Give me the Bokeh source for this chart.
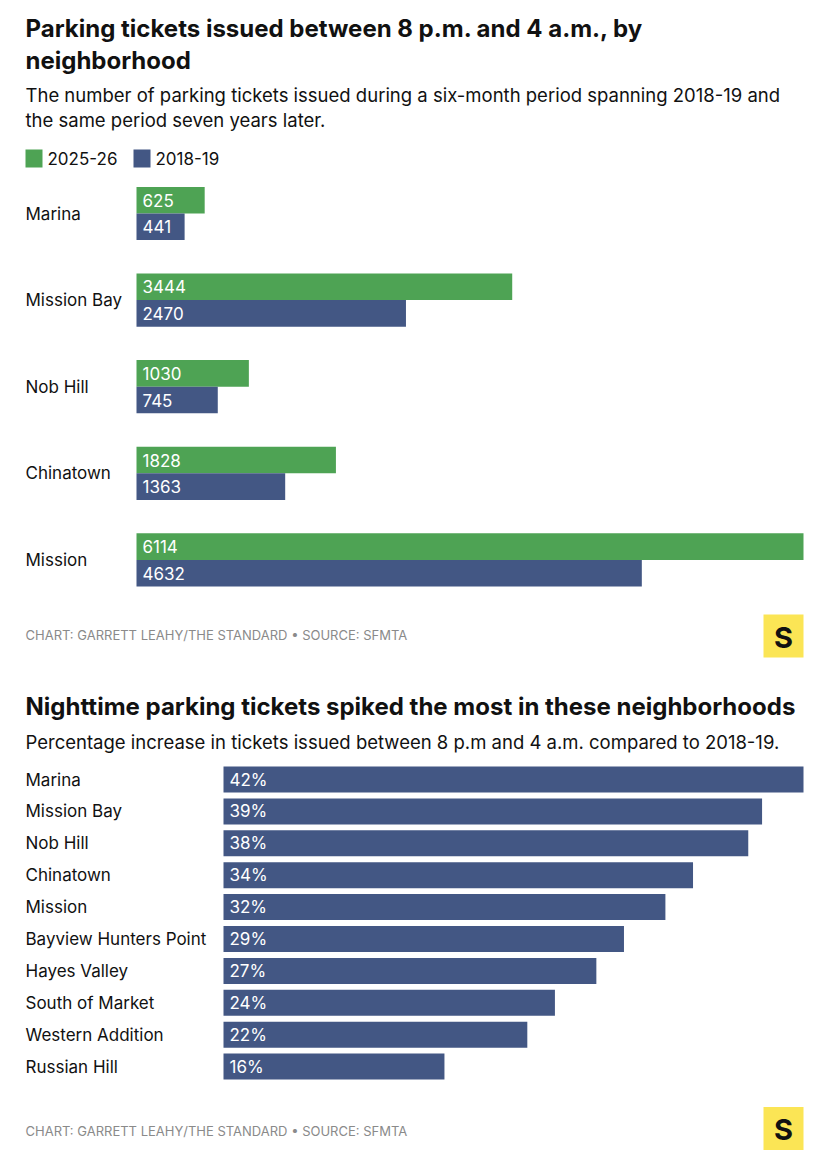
from bokeh.plotting import figure
from bokeh.models import Range1d, ColumnDataSource
from bokeh.layouts import column
from bokeh.embed import file_html
from bokeh.resources import INLINE
from bokeh.core.properties import value
from bokeh.transform import dodge

# ---------------- data ----------------
neighborhoods_1 = ["Marina", "Mission Bay", "Nob Hill", "Chinatown", "Mission"]
tickets_2025_26 = [625, 3444, 1030, 1828, 6114]
tickets_2018_19 = [441, 2470, 745, 1363, 4632]
series_labels = ["2025-26", "2018-19"]

neighborhoods_2 = ["Marina", "Mission Bay", "Nob Hill", "Chinatown", "Mission",
                   "Bayview Hunters Point", "Hayes Valley", "South of Market",
                   "Western Addition", "Russian Hill"]
pct_increase = [42, 39, 38, 34, 32, 29, 27, 24, 22, 16]

title_1 = ["Parking tickets issued between 8 p.m. and 4 a.m., by", "neighborhood"]
subtitle_1 = ["The number of parking tickets issued during a six-month period spanning 2018-19 and",
              "the same period seven years later."]
title_2 = "Nighttime parking tickets spiked the most in these neighborhoods"
subtitle_2 = "Percentage increase in tickets issued between 8 p.m and 4 a.m. compared to 2018-19."
footer = "CHART: GARRETT LEAHY/THE STANDARD \u2022 SOURCE: SFMTA"

# ---------------- style ----------------
GREEN = "#4ea354"
BLUE = "#435784"
YELLOW = "#fbe555"
DARK = "#111111"
GREY = "#8a8a8a"
FONT = value("Inter")
W = 818
TITLE_SZ = 24
SUB_SZ = 18.5
LBL_SZ = 17
FOOT_SZ = 13


def make_fig(h, xr, yr):
    p = figure(width=W, height=h, x_range=xr, y_range=yr, output_backend="svg",
               toolbar_location=None, x_axis_location=None, y_axis_location=None,
               min_border=0, min_border_left=0, min_border_right=0,
               min_border_top=0, min_border_bottom=0)
    p.grid.visible = False
    p.outline_line_color = None
    p.background_fill_color = "white"
    p.border_fill_color = "white"
    p.extra_x_ranges = {"px": Range1d(0, W)}
    p.extra_y_ranges = {"px": Range1d(h, 0)}
    return p


def txt(p, x, y, s, size, color=DARK, bold=False, align="left", yname="px"):
    p.text(x=[x], y=[y], text=[s], x_range_name="px", y_range_name=yname,
           text_font=FONT, text_font_size=f"{size}px",
           text_font_style="bold" if bold else "normal",
           text_color=color, text_baseline="middle", text_align=align)


def logo(p, cx, cy):
    p.rect(x=[cx], y=[cy], width=40, height=43, x_range_name="px", y_range_name="px",
           fill_color=YELLOW, line_color=None)
    txt(p, cx, cy + 1, "S", 29, color=DARK, bold=True, align="center")


# ---------------- chart 1 ----------------
H1 = 672
x0_1, x1_1 = 136, 803                      # pixel span of 0..max
k1 = (x1_1 - x0_1) / max(tickets_2025_26)
xr1 = Range1d(-x0_1 / k1, (W - x0_1) / k1)
top1, stride1 = 213, 86.6
yr1 = Range1d((H1 - top1) / stride1, -top1 / stride1)
half1 = 13.3 / stride1

p1 = make_fig(H1, xr1, yr1)
txt(p1, 25, 28, title_1[0], TITLE_SZ, bold=True)
txt(p1, 25, 60, title_1[1], TITLE_SZ, bold=True)
txt(p1, 25, 94, subtitle_1[0], SUB_SZ)
txt(p1, 25, 119, subtitle_1[1], SUB_SZ)

# legend
p1.rect(x=[33.5], y=[158], width=17, height=18, x_range_name="px", y_range_name="px",
        fill_color=GREEN, line_color=None)
txt(p1, 47, 158, series_labels[0], LBL_SZ)
p1.rect(x=[141.5], y=[158], width=17, height=18, x_range_name="px", y_range_name="px",
        fill_color=BLUE, line_color=None)
txt(p1, 155, 158, series_labels[1], LBL_SZ)

src1 = ColumnDataSource(dict(
    y=list(range(len(neighborhoods_1))),
    name=neighborhoods_1,
    new=tickets_2025_26,
    old=tickets_2018_19,
    new_lbl=[str(v) for v in tickets_2025_26],
    old_lbl=[str(v) for v in tickets_2018_19],
))
p1.hbar(y=dodge("y", -half1, range=p1.y_range), height=2 * half1, left=0, right="new",
        fill_color=GREEN, line_color=None, source=src1)
p1.hbar(y=dodge("y", half1, range=p1.y_range), height=2 * half1, left=0, right="old",
        fill_color=BLUE, line_color=None, source=src1)
p1.text(x=0, y=dodge("y", -half1, range=p1.y_range), text="new_lbl", x_offset=6,
        text_font=FONT, text_font_size=f"{LBL_SZ}px", text_color="white",
        text_baseline="middle", source=src1)
p1.text(x=0, y=dodge("y", half1, range=p1.y_range), text="old_lbl", x_offset=6,
        text_font=FONT, text_font_size=f"{LBL_SZ}px", text_color="white",
        text_baseline="middle", source=src1)
p1.text(x=25, y="y", text="name", x_range_name="px", text_font=FONT,
        text_font_size=f"{LBL_SZ}px", text_color=DARK, text_baseline="middle", source=src1)

txt(p1, 25, 634, footer, FOOT_SZ, color=GREY)
logo(p1, 783, 635.5)

# ---------------- chart 2 ----------------
H2 = 486
OFF2 = 672                                   # page y where chart 2 starts
x0_2, x1_2 = 223, 803
k2 = (x1_2 - x0_2) / max(pct_increase)
xr2 = Range1d(-x0_2 / k2, (W - x0_2) / k2)
top2, stride2 = 779 - OFF2, 31.9
yr2 = Range1d((H2 - top2) / stride2, -top2 / stride2)

p2 = make_fig(H2, xr2, yr2)
txt(p2, 25, 706 - OFF2, title_2, TITLE_SZ, bold=True)
txt(p2, 25, 741 - OFF2, subtitle_2, SUB_SZ)

src2 = ColumnDataSource(dict(
    y=list(range(len(neighborhoods_2))),
    name=neighborhoods_2,
    pct=pct_increase,
    lbl=[f"{v}%" for v in pct_increase],
))
p2.hbar(y="y", height=26 / stride2, left=0, right="pct", fill_color=BLUE,
        line_color=None, source=src2)
p2.text(x=0, y="y", text="lbl", x_offset=6, text_font=FONT, text_font_size=f"{LBL_SZ}px",
        text_color="white", text_baseline="middle", source=src2)
p2.text(x=25, y="y", text="name", x_range_name="px", text_font=FONT,
        text_font_size=f"{LBL_SZ}px", text_color=DARK, text_baseline="middle", source=src2)

txt(p2, 25, 1130 - OFF2, footer, FOOT_SZ, color=GREY)
logo(p2, 783, 1128 - OFF2)

layout = column(p1, p2, spacing=0)
open("out.html", "w").write(file_html(layout, INLINE))
